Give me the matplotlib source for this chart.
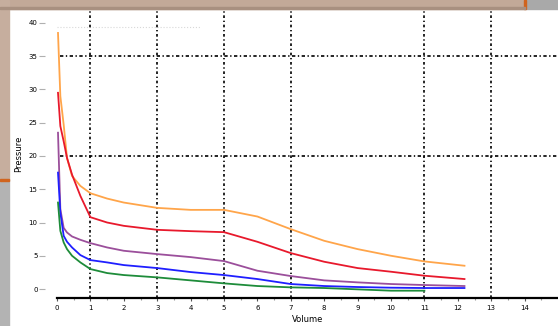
import matplotlib.pyplot as plt
import matplotlib.patches as mpatches
import numpy as np

# shared volume samples
volume = [0.03, 0.1, 0.2, 0.3, 0.45, 0.7, 1.0, 1.5, 2.0, 3.0, 4.0, 5.0, 6.0,
          7.0, 8.0, 9.0, 10.0, 11.0, 12.2]

p_orange = [38.5, 29.0, 24.7, 19.7, 17.0, 15.5, 14.4, 13.6, 13.0, 12.2, 11.9,
            11.9, 10.9, 9.0, 7.25, 6.0, 5.0, 4.15, 3.5]
p_red = [29.5, 24.5, 22.2, 19.7, 17.2, 14.0, 10.8, 10.0, 9.5, 8.9, 8.7, 8.55,
         7.1, 5.4, 4.1, 3.15, 2.6, 2.0, 1.5]
p_purple = [23.5, 12.0, 9.2, 8.5, 7.9, 7.4, 6.9, 6.25, 5.75, 5.25, 4.8, 4.2,
            2.75, 1.95, 1.3, 1.0, 0.75, 0.6, 0.45]
p_blue = [17.5, 11.5, 8.0, 7.1, 6.25, 5.1, 4.35, 4.0, 3.6, 3.15, 2.55, 2.1,
          1.5, 0.75, 0.45, 0.3, 0.2, 0.15, 0.15]
p_green = [13.0, 8.75, 7.0, 6.0, 5.0, 4.0, 3.0, 2.4, 2.1, 1.75, 1.3, 0.85,
           0.45, 0.25, 0.15, -0.05, -0.25, -0.25]

series = [(p_orange, '#ffa54a'), (p_red, '#e8192c'), (p_purple, '#9b4f9b'),
          (p_blue, '#1f1fff'), (p_green, '#1e8c3a')]

xticks = list(range(0, 15))
yticks = list(range(0, 45, 5))
vgrid = [1, 3, 5, 7, 11, 13]
hgrid = [20, 35]

fig = plt.figure(figsize=(5.58, 3.26), dpi=100)
fig.patch.set_facecolor('white')

# window frame around the plot panel
W, H = 558, 326
def frect(x0, y0, w, h, c):
    fig.patches.append(mpatches.Rectangle((x0 / W, 1 - (y0 + h) / H), w / W, h / H,
                                          transform=fig.transFigure, color=c, zorder=0))
frect(0, 0, 525, 9, '#c2a998')
frect(525, 0, 33, 9, '#a9a9a9')
frect(524, 0, 2, 9, '#d0641e')
frect(0, 0, 9, 180, '#c6ae9e')
frect(0, 180, 9, 146, '#b3b3b3')
frect(0, 179, 9, 2, '#d0641e')
frect(0, 7, 525, 2, '#a89080')

ax = fig.add_axes([57 / W, 28 / H, 501 / W, 289 / H])
ax.set_facecolor('none')

for vals, col in series:
    ax.plot(volume[:len(vals)], vals, color=col, lw=1.3, zorder=3)

for gx in vgrid:
    ax.axvline(gx, color='black', lw=1.2, ls=(0, (1.6, 1.6, 0.8, 1.6)), zorder=2)
for gy in hgrid:
    ax.axhline(gy, xmin=0.006, color='black', lw=1.2, ls=(0, (2, 1.5, 0.8, 1.5)), zorder=2)
ax.hlines(39.4, 0, 4.3, color='#d8d8d8', lw=0.8, ls=':', zorder=1)

ax.set_xlim(0, 15)
ax.set_ylim(-1.35, 42.1)
ax.set_xticks(xticks)
ax.set_xticks(np.arange(0.5, 15, 1), minor=True)
ax.set_yticks(yticks)

for s in ['top', 'right', 'left']:
    ax.spines[s].set_visible(False)
ax.spines['bottom'].set_linewidth(1.6)
ax.spines['left'].set_position(('outward', 9))

ax.tick_params(axis='x', length=2, width=0.8, labelsize=5, pad=3, color='#555555')
ax.tick_params(axis='x', which='minor', length=1.5, width=0.8, color='#999999')
ax.tick_params(axis='y', length=4, width=0.8, labelsize=5, pad=1, color='#b0b0b0')

ax.set_xlabel('Volume', fontsize=6, labelpad=3)
ax.set_ylabel('Pressure', fontsize=6, labelpad=4)

fig.savefig('out.png', dpi=100)
